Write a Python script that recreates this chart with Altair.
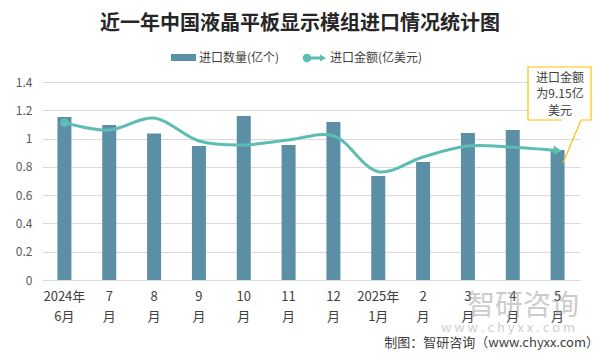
import altair as alt
import pandas as pd

# ---- data ----
categories = ["2024年\n6月", "7\n月", "8\n月", "9\n月", "10\n月", "11\n月", "12\n月",
              "2025年\n1月", "2\n月", "3\n月", "4\n月", "5\n月"]
quantity = [1.153, 1.096, 1.035, 0.948, 1.160, 0.955, 1.117, 0.735, 0.834, 1.040, 1.061, 0.919]
amount = [1.113, 1.060, 1.145, 0.983, 0.955, 0.990, 1.020, 0.766, 0.870, 0.947, 0.938, 0.915]
y_ticks = [0, 0.2, 0.4, 0.6, 0.8, 1.0, 1.2, 1.4]

title_text = "近一年中国液晶平板显示模组进口情况统计图"
legend_bar = "进口数量(亿个)"
legend_line = "进口金额(亿美元)"
callout_lines = ["进口金额", "为9.15亿", "美元"]
footer_text = "制图：智研咨询（www.chyxx.com）"

FONT = "Noto Sans CJK SC"
BAR = "#5B8FA6"
LINE = "#5DBDB2"
GOLD = "#FFC000"

W, H = 538, 198

df = pd.DataFrame({"cat": categories, "qty": quantity, "amt": amount})

xaxis = alt.Axis(labelExpr="split(datum.label, '\\n')", labelAngle=0,
                 labelFont=FONT, labelFontSize=13, labelColor="#404040",
                 labelLineHeight=20, labelBaseline="top", labelPadding=10,
                 ticks=False, domain=False, grid=False, labelOverlap=False)
yaxis = alt.Axis(values=y_ticks, format="~g", labelFont=FONT, labelFontSize=12,
                 labelColor="#595959", labelPadding=10, ticks=False, domain=False,
                 grid=True, gridColor="#D9D9D9", gridWidth=1, labelOverlap=False,
                 tickCount=8)
xscale = alt.Scale(paddingInner=0, paddingOuter=0)
yscale = alt.Scale(domain=[0, 1.4], nice=False)


def X():
    return alt.X("cat:N", sort=categories, title=None, scale=xscale, axis=xaxis)


def Y(field):
    return alt.Y(field, scale=yscale, title=None, axis=yaxis)


bars = alt.Chart(df).mark_bar(size=14, color=BAR).encode(x=X(), y=Y("qty:Q"))

line = alt.Chart(df).mark_line(color=LINE, strokeWidth=3, interpolate="catmull-rom").encode(
    x=X(), y=Y("amt:Q"))

start_pt = alt.Chart(df.iloc[[0]]).mark_point(shape="circle", filled=True, size=75,
                                              color=LINE, opacity=1).encode(x=X(), y=Y("amt:Q"))

end_pt = alt.Chart(df.iloc[[-1]]).mark_point(shape="triangle-right", filled=True, size=90,
                                             color=LINE, opacity=1, angle=4).encode(
    x=X(), y=Y("amt:Q"))


def text_layer(txt, px, py, size=12, color="#404040", align="left", weight="normal",
               baseline="middle", opacity=1.0, font=FONT):
    return alt.Chart(pd.DataFrame({"t": [txt]})).mark_text(
        align=align, baseline=baseline, font=font, fontSize=size, color=color,
        fontWeight=weight, opacity=opacity
    ).encode(x=alt.value(px), y=alt.value(py), text="t:N")


one = pd.DataFrame({"a": [0]})

title = text_layer(title_text, 258, -58, size=20, color="#262626", align="center", weight="bold")

legend_swatch = alt.Chart(one).mark_rect(color=BAR).encode(
    x=alt.value(129), x2=alt.value(154), y=alt.value(-28), y2=alt.value(-21))
legend_t1 = text_layer(legend_bar, 157, -24, size=12, color="#404040")
legend_ln = alt.Chart(one).mark_rule(color=LINE, strokeWidth=3).encode(
    x=alt.value(265), x2=alt.value(280), y=alt.value(-24))
legend_c = alt.Chart(one).mark_point(shape="circle", filled=True, size=75, color=LINE,
                                     opacity=1).encode(x=alt.value(265), y=alt.value(-24))
legend_a = alt.Chart(one).mark_point(shape="triangle-right", filled=True, size=50, color=LINE,
                                     opacity=1).encode(x=alt.value(281), y=alt.value(-24))
legend_t2 = text_layer(legend_line, 288, -24, size=12, color="#404040")

# callout box
box = alt.Chart(one).mark_rect(fill="white").encode(
    x=alt.value(486), x2=alt.value(549), y=alt.value(-15), y2=alt.value(38))
outline = pd.DataFrame({
    "px": [520, 486, 486, 549, 549, 539, 521],
    "py": [38, 38, -15, -15, 38, 38, 81],
    "o": list(range(7)),
})
box_border = alt.Chart(outline).mark_line(color=GOLD, strokeWidth=1.2).encode(
    x=alt.X("px:Q", scale=None), y=alt.Y("py:Q", scale=None), order="o:Q")
call_texts = [text_layer(t, 518, yy, size=12, color="#404040", align="center")
              for t, yy in zip(callout_lines, [-4, 12, 29])]

# watermark + footer
wm1 = text_layer("智研咨询", 481, 225, size=28, color="#9A9A9A", align="center", opacity=0.5)
wm2 = text_layer("w w w . c h y x x . c o m", 466, 246, size=13, color="#A0A0A0",
                 align="center", opacity=0.5)
footer = text_layer(footer_text, 557, 261, size=13, color="#404040", align="right")

chart = alt.layer(
    bars, line, start_pt, end_pt,
    title, legend_swatch, legend_t1, legend_ln, legend_c, legend_a, legend_t2,
    box, box_border, *call_texts, wm1, wm2, footer
).properties(
    width=W, height=H,
    autosize=alt.AutoSizeParams(type="none"),
    padding={"left": 34, "top": 74, "right": 12, "bottom": 74},
    background="white",
).configure_view(stroke=None)

chart.save("out.html", embed_options={"renderer": "svg", "actions": False})
